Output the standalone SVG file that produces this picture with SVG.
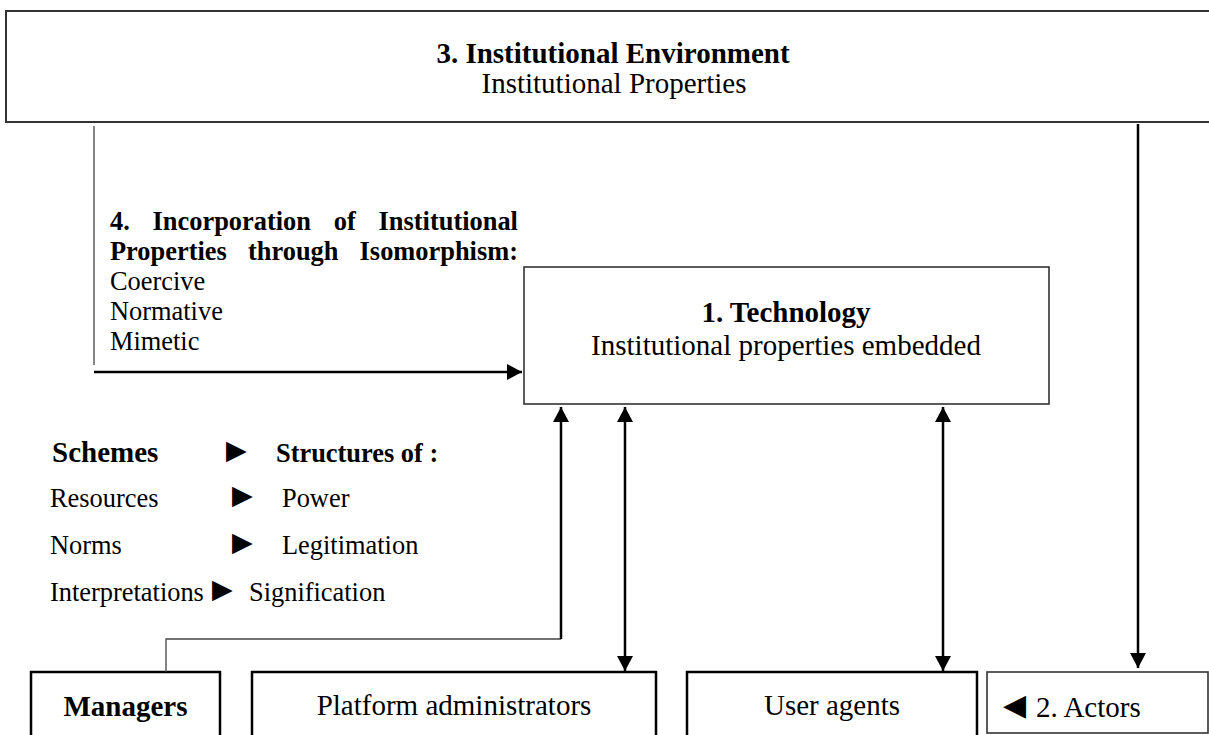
<svg xmlns="http://www.w3.org/2000/svg" width="1209" height="735" viewBox="0 0 1209 735">
<style>
text{font-family:"Liberation Serif","Times New Roman",serif;fill:#000}
.b{font-weight:bold}
.t29{font-size:29px}
.t26{font-size:26.4px}
.mid{text-anchor:middle}
.box{fill:#fff;stroke:#000;stroke-width:2.5}
.thin{fill:#fff;stroke:#333;stroke-width:1.6}
.ln{fill:none;stroke:#000;stroke-width:2.5}
.ln1{fill:none;stroke:#444;stroke-width:1.3}
.sym{font-family:"DejaVu Sans",sans-serif;font-size:27px}
</style>
<defs>
<marker id="ah" markerUnits="userSpaceOnUse" markerWidth="16" markerHeight="16" refX="15" refY="8" orient="auto-start-reverse">
<path d="M0,0 L15,8 L0,16 Z" fill="#000"/>
</marker>
</defs>
<rect width="1209" height="735" fill="#fff"/>
<g id="environment">
<rect class="thin" x="6" y="11" width="1230" height="111" style="stroke-width:2"/>
<text class="b t29 mid" x="613" y="63">3. Institutional Environment</text>
<text class="t29 mid" x="614" y="93">Institutional Properties</text>
</g>
<g id="technology">
<rect class="thin" x="524" y="267" width="525" height="137"/>
<text class="b t29 mid" x="786" y="322">1. Technology</text>
<text class="t29 mid" x="786" y="355">Institutional properties embedded</text>
</g>
<g id="isomorphism">
<text class="b t26" x="110" y="230">4.</text>
<text class="b t26" x="152.6" y="230">Incorporation</text>
<text class="b t26" x="333.8" y="230">of</text>
<text class="b t26" x="378.6" y="230">Institutional</text>
<text class="b t26" x="110" y="260">Properties</text>
<text class="b t26" x="248" y="260">through</text>
<text class="b t26" x="359.6" y="260">Isomorphism:</text>
<text class="t26" x="110" y="290">Coercive</text>
<text class="t26" x="110" y="320">Normative</text>
<text class="t26" x="110" y="350">Mimetic</text>
</g>
<g id="schemes">
<text class="b" x="52" y="462" style="font-size:29px">Schemes</text>
<text class="sym" x="226" y="459">▶</text>
<text class="b t26" x="276" y="462">Structures of :</text>
<text class="t26" x="50" y="507">Resources</text>
<text class="sym" x="232" y="504">▶</text>
<text class="t26" x="282" y="507">Power</text>
<text class="t26" x="50" y="554">Norms</text>
<text class="sym" x="232" y="551">▶</text>
<text class="t26" x="282" y="554">Legitimation</text>
<text class="t26" x="50" y="601">Interpretations</text>
<text class="sym" x="212" y="598">▶</text>
<text class="t26" x="249" y="601">Signification</text>
</g>
<g id="managers">
<rect class="box" x="31" y="672" width="189" height="80"/>
<text class="b t29 mid" x="125.5" y="716">Managers</text>
</g>
<g id="platform-admins">
<rect class="box" x="252" y="672" width="404" height="80"/>
<text class="t29 mid" x="454" y="715">Platform administrators</text>
</g>
<g id="user-agents">
<rect class="box" x="687" y="672" width="290" height="80"/>
<text class="t29 mid" x="832" y="715">User agents</text>
</g>
<g id="actors">
<rect class="thin" x="987" y="672" width="221" height="61"/>
<text class="sym" x="1003" y="715" style="font-size:30px">◀</text>
<text class="t29" x="1036" y="717">2. Actors</text>
</g>
<g id="connectors">
<path class="ln1" d="M94 126 V365"/>
<path class="ln" d="M94 372 H522" marker-end="url(#ah)"/>
<path class="ln" d="M1138 124 V668" marker-end="url(#ah)"/>
<path class="ln1" d="M166 672 V639 H561"/>
<path class="ln" d="M561 639 V407" marker-end="url(#ah)"/>
<path class="ln" d="M625 407 V671" marker-start="url(#ah)" marker-end="url(#ah)"/>
<path class="ln" d="M943 407 V671" marker-start="url(#ah)" marker-end="url(#ah)"/>
</g>
</svg>
